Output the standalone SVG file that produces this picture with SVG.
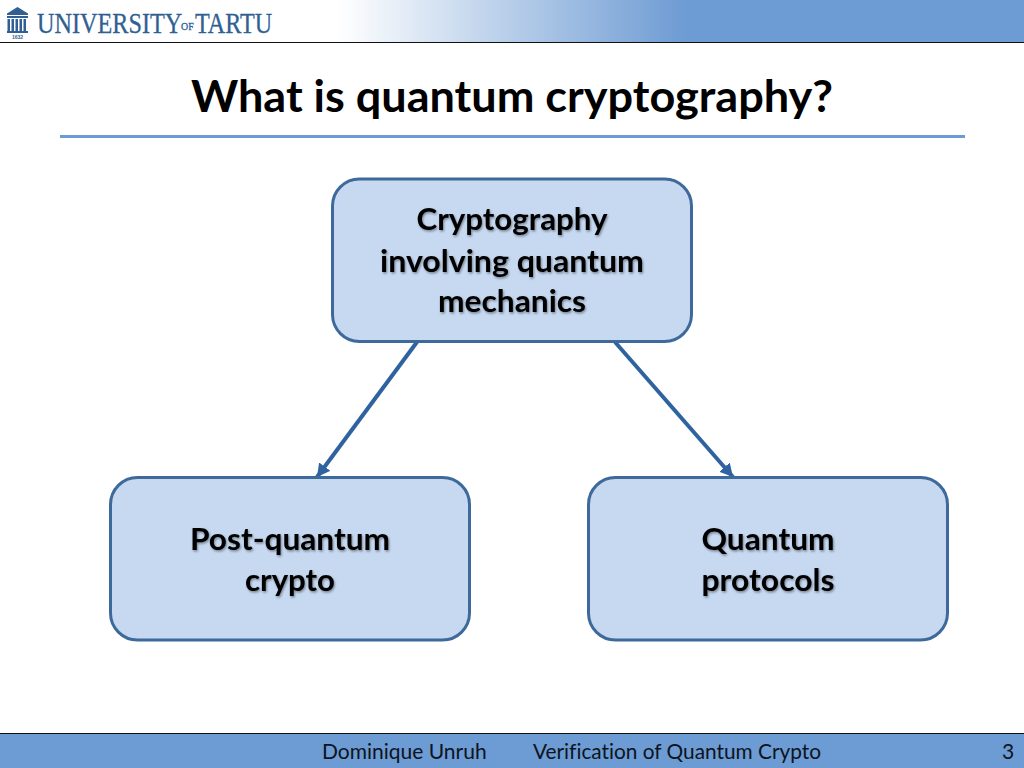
<svg xmlns="http://www.w3.org/2000/svg" width="1024" height="768" viewBox="0 0 1024 768">
<style>
.box{fill:#c6d9f1;stroke:#3d6a9b;stroke-width:3}
.lbl{font-family:Lato,"Noto Sans",sans-serif;font-weight:700;font-size:31px;fill:#000;text-anchor:middle;filter:url(#ts);font-variant-ligatures:none}
.conn{stroke:#2f639f;stroke-width:4;fill:none;marker-end:url(#arr)}
.foot{font-family:Lato,"Noto Sans",sans-serif;font-size:21px;fill:#0c1420;font-variant-ligatures:none}
.logo{font-family:"Liberation Serif",serif;fill:#2f5f93;stroke:#2f5f93;stroke-width:0.3}
</style>
<defs>
<linearGradient id="hdr" x1="0" x2="1" y1="0" y2="0"><stop offset="0.33" stop-color="#fff"/><stop offset="0.67" stop-color="#6d9bd3"/></linearGradient>
<filter id="ts" x="-5%" y="-5%" width="110%" height="120%"><feDropShadow dx="1" dy="1.5" stdDeviation="0.8" flood-color="#000" flood-opacity="0.4"/></filter>
<marker id="arr" markerUnits="userSpaceOnUse" markerWidth="16" markerHeight="16" refX="13" refY="7" orient="auto"><path d="M0 0L13 7L0 14Z" fill="#2f639f"/></marker>
</defs>
<rect width="1024" height="768" fill="#fff"/>
<g id="header">
<rect width="1024" height="42" fill="url(#hdr)"/>
<rect y="42" width="1024" height="1" fill="#111"/>
<g id="logo-icon" fill="#2f5f93">
<path d="M7 13.500L17.500 7L28 13.500V15H7Z"/>
<rect x="7" y="16" width="21" height="2"/>
<rect x="7.500" y="19" width="2.500" height="12"/><rect x="11.500" y="19" width="2.500" height="12"/><rect x="15.500" y="19" width="2.500" height="12"/><rect x="19.500" y="19" width="2.500" height="12"/><rect x="23.500" y="19" width="2.500" height="12"/>
<rect x="7" y="31" width="21" height="2"/>
<text x="17.500" y="38.500" font-family="Liberation Sans,sans-serif" font-size="5" font-weight="700" text-anchor="middle">1632</text>
</g>
<text class="logo" transform="translate(37 33) scale(0.835 1)" font-size="29">UNIVERSITY</text>
<text class="logo" transform="translate(181 29.500) scale(0.9 1)" font-size="11">OF</text>
<text class="logo" transform="translate(195 33) scale(0.833 1)" font-size="29">TARTU</text>
</g>
<text x="512" y="112" font-family="Lato,'Noto Sans',sans-serif" font-weight="700" font-size="44" text-anchor="middle" fill="#000" textLength="642" lengthAdjust="spacingAndGlyphs">What is quantum cryptography?</text>
<rect x="60" y="135" width="905" height="3" fill="#6d9bd3"/>
<g id="connectors">
<line class="conn" x1="417" y1="342" x2="317" y2="477"/>
<line class="conn" x1="615" y1="342" x2="733" y2="477"/>
</g>
<g id="node-root">
<rect class="box" x="332.500" y="179" width="359" height="162.500" rx="27"/>
<text class="lbl" x="512" y="230" textLength="191" lengthAdjust="spacingAndGlyphs">Cryptography</text>
<text class="lbl" x="512" y="272" textLength="264" lengthAdjust="spacingAndGlyphs">involving quantum</text>
<text class="lbl" x="512" y="312" textLength="148" lengthAdjust="spacingAndGlyphs">mechanics</text>
</g>
<g id="node-post">
<rect class="box" x="110.500" y="477.500" width="359" height="162.500" rx="27"/>
<text class="lbl" x="290" y="550" textLength="200" lengthAdjust="spacingAndGlyphs">Post-quantum</text>
<text class="lbl" x="290" y="591" textLength="90" lengthAdjust="spacingAndGlyphs">crypto</text>
</g>
<g id="node-protocols">
<rect class="box" x="588.500" y="477.500" width="359" height="162.500" rx="27"/>
<text class="lbl" x="768" y="550" textLength="133" lengthAdjust="spacingAndGlyphs">Quantum</text>
<text class="lbl" x="768" y="591" textLength="133" lengthAdjust="spacingAndGlyphs">protocols</text>
</g>
<g id="footer">
<rect y="733" width="1024" height="35" fill="#6d9bd3"/>
<rect y="733" width="1024" height="1" fill="#111"/>
<text class="foot" x="322" y="759">Dominique Unruh</text>
<text class="foot" x="533" y="759" textLength="288" lengthAdjust="spacingAndGlyphs">Verification of Quantum Crypto</text>
<text class="foot" x="1002" y="759">3</text>
</g>
</svg>
